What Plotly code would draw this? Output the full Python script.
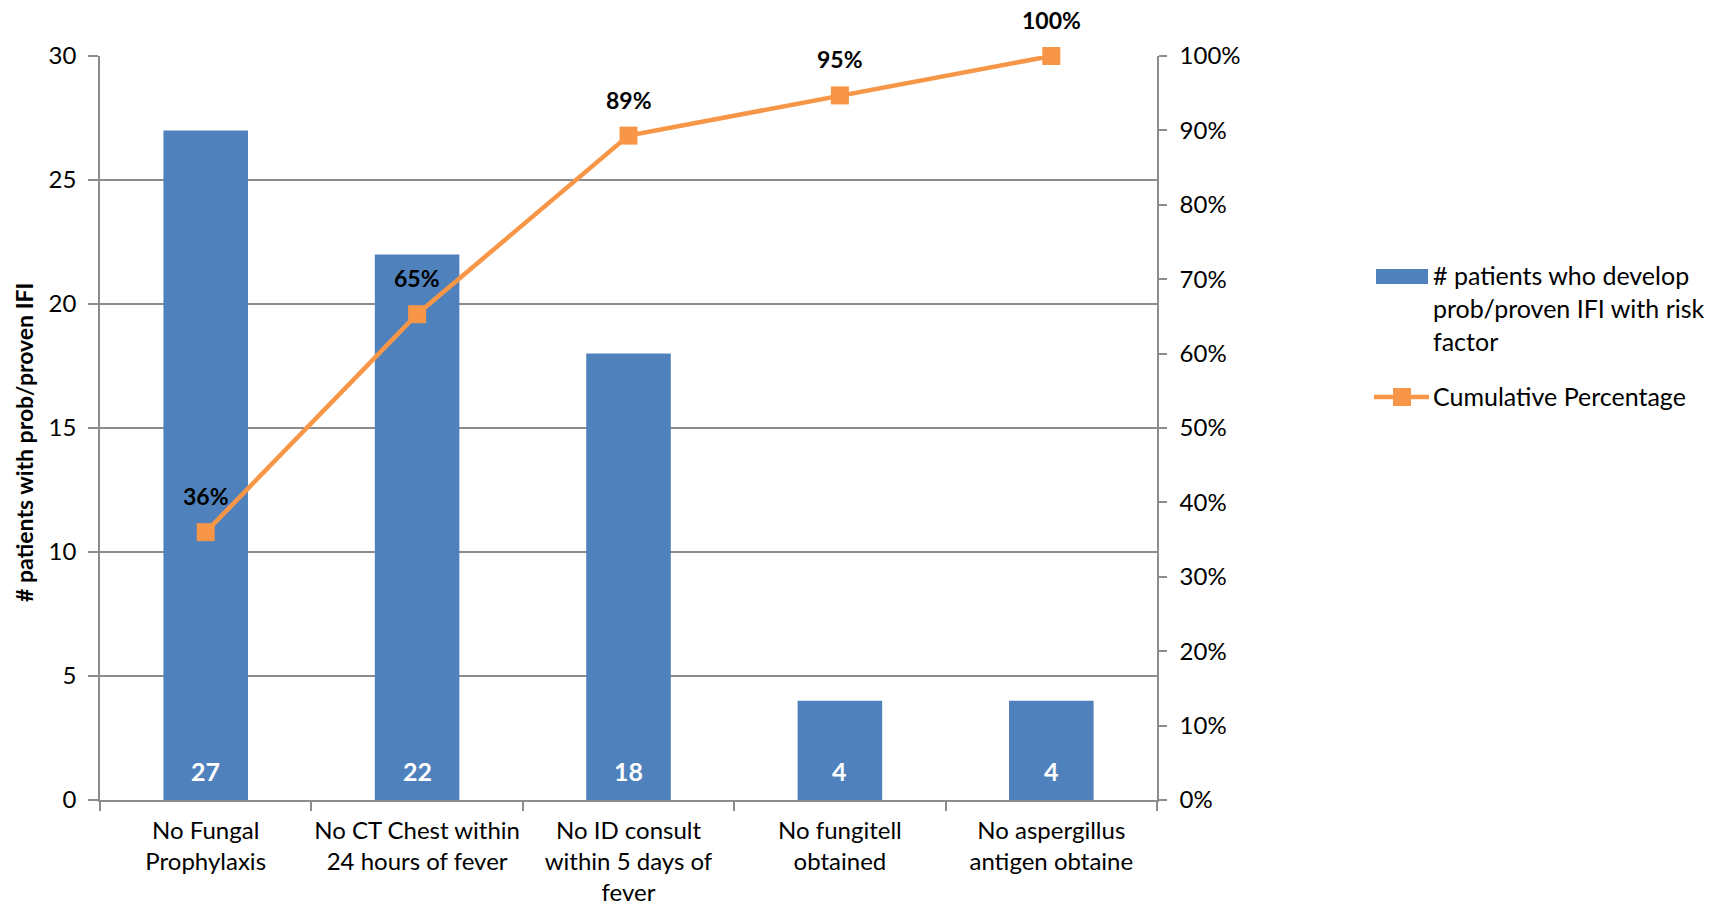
import plotly.graph_objects as go

# Pareto of risk factors among patients with probable/proven IFI
categories = [
    "No Fungal<br>Prophylaxis",
    "No CT Chest within<br>24 hours of fever",
    "No ID consult<br>within 5 days of<br>fever",
    "No fungitell<br>obtained",
    "No aspergillus<br>antigen obtaine",
]
patient_counts = [27, 22, 18, 4, 4]
cumulative_pct = [0.36, 0.653, 0.893, 0.947, 1.0]

bar_name_lines = ["# patients who develop", "prob/proven IFI with risk", "factor"]
line_name = "Cumulative Percentage"
y_title = "# patients with prob/proven IFI"

BLUE = "#4F81BD"
ORANGE = "#F79646"
GRID = "#8C8C8C"
FONT = "Lato"
FS = 24

W, H = 1719, 908
L, R, T, B = 100, 562, 56, 108
PW = W - L - R
PH = H - T - B


def px_x(x):
    return (x - L) / PW


def px_y(y):
    return (H - B - y) / PH


fig = go.Figure()

fig.add_trace(go.Bar(
    x=categories, y=patient_counts, name=" ".join(bar_name_lines),
    marker=dict(color=BLUE, line=dict(width=0)),
    yaxis="y", showlegend=False,
))

fig.add_trace(go.Scatter(
    x=categories, y=cumulative_pct, name=line_name,
    mode="lines+markers",
    line=dict(color=ORANGE, width=4.5),
    marker=dict(symbol="square", size=18, color=ORANGE),
    yaxis="y2", showlegend=False, cliponaxis=False,
))

annotations = []
# value labels at the base of each bar
for c, v in zip(categories, patient_counts):
    annotations.append(dict(
        x=c, y=0, xref="x", yref="y", text=f"<b>{v}</b>",
        showarrow=False, yanchor="middle", yshift=29,
        font=dict(family=FONT, size=FS + 1, color="white"),
    ))
# cumulative percentage labels above each point
for c, p in zip(categories, cumulative_pct):
    annotations.append(dict(
        x=c, y=p, xref="x", yref="y2", text=f"<b>{p:.0%}</b>",
        showarrow=False, yanchor="middle", yshift=36,
        font=dict(family=FONT, size=FS - 1, color="black"),
    ))
# rotated y-axis title
annotations.append(dict(
    x=px_x(24), y=px_y(443), xref="paper", yref="paper",
    text=f"<b>{y_title}</b>", textangle=-90, showarrow=False,
    xanchor="center", yanchor="middle",
    font=dict(family=FONT, size=FS - 1, color="black"),
))
# legend entries
for i, line in enumerate(bar_name_lines):
    annotations.append(dict(
        x=px_x(1431), y=px_y(275 + 33 * i), xref="paper", yref="paper",
        text=line, showarrow=False, align="left",
        xanchor="left", yanchor="middle",
        font=dict(family=FONT, size=FS + 1, color="black"),
    ))
annotations.append(dict(
    x=px_x(1431), y=px_y(396), xref="paper", yref="paper",
    text=line_name, showarrow=False, align="left",
    xanchor="left", yanchor="middle",
    font=dict(family=FONT, size=FS + 1, color="black"),
))

shapes = [
    dict(type="rect", xref="paper", yref="paper",
         x0=px_x(1376), x1=px_x(1428), y0=px_y(284), y1=px_y(269),
         fillcolor=BLUE, line=dict(width=0)),
    dict(type="line", xref="paper", yref="paper",
         x0=px_x(1374), x1=px_x(1429), y0=px_y(397), y1=px_y(397),
         line=dict(color=ORANGE, width=4.5)),
    dict(type="rect", xref="paper", yref="paper",
         x0=px_x(1393), x1=px_x(1411), y0=px_y(406), y1=px_y(388),
         fillcolor=ORANGE, line=dict(width=0)),
]

fig.update_layout(
    width=W, height=H,
    margin=dict(l=L, r=R, t=T, b=B, pad=0),
    paper_bgcolor="white", plot_bgcolor="white",
    font=dict(family=FONT, size=FS, color="black"),
    bargap=0.6,
    showlegend=False,
    xaxis=dict(
        type="category", range=[-0.5, 4.5],
        tickson="boundaries", ticks="outside", ticklen=9,
        tickcolor=GRID, tickwidth=1.5, tickangle=0,
        showline=True, linecolor=GRID, linewidth=2,
        showgrid=False, zeroline=False, automargin=False,
        tickfont=dict(family=FONT, size=FS),
        ticklabelstandoff=8,
    ),
    yaxis=dict(
        range=[0, 30], dtick=5, ticks="outside", ticklen=10,
        tickcolor=GRID, tickwidth=1.5,
        showline=True, linecolor=GRID, linewidth=1.5,
        showgrid=True, gridcolor=GRID, gridwidth=1.5,
        zeroline=False, tickfont=dict(family=FONT, size=FS),
        ticklabelstandoff=7, automargin=False,
    ),
    yaxis2=dict(
        range=[0, 1], dtick=0.1, tickformat=".0%",
        overlaying="y", side="right", ticks="outside", ticklen=8,
        tickcolor=GRID, tickwidth=1.5,
        showline=True, linecolor=GRID, linewidth=1.5,
        showgrid=False, zeroline=False,
        tickfont=dict(family=FONT, size=FS),
        ticklabelstandoff=8, automargin=False,
    ),
    annotations=annotations,
    shapes=shapes,
)

fig.write_html("out.html")
